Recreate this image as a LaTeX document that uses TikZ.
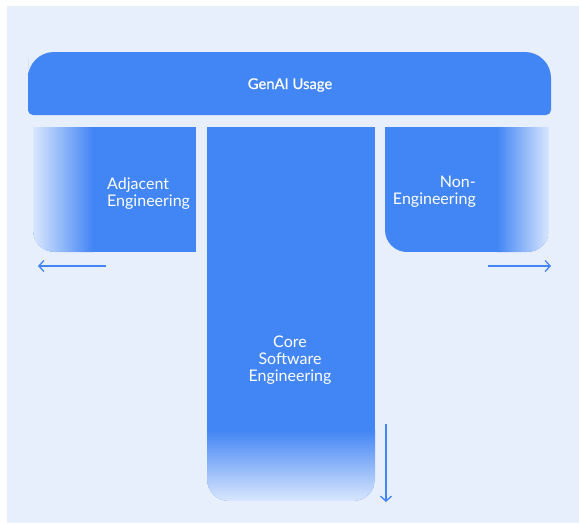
\documentclass[tikz,border=0pt]{standalone}
\usepackage{fontspec}
\setmainfont{Lato}
\usetikzlibrary{arrows.meta}
\definecolor{gblue}{HTML}{4285F4}
\definecolor{bgblue}{HTML}{E8EFFC}
\definecolor{fadeblue}{HTML}{DCE8FD}
\tikzset{
  lbl/.style={text=white, font=\fontsize{16}{17}\selectfont, inner sep=0pt},
  arr/.style={draw=gblue, line width=1.3pt, -{Straight Barb[length=5pt,width=11pt,line width=1.3pt]}},
}
\begin{document}
\begin{tikzpicture}[x=1pt,y=-1pt]
\useasboundingbox (0,0) rectangle (579,523);
\fill[white] (0,0) rectangle (579,523);
\fill[bgblue] (7,6) rectangle (579,523);
% top bar
\fill[gblue] (290,52) [rounded corners=26] -- (28,52) -- (28,85) [rounded corners=5] -- (28,115) -- (551,115) -- (551,85) [rounded corners=26] -- (551,52) -- cycle;
% left box
\begin{scope}
\clip (33,190) [sharp corners] -- (33,127) -- (196,127) -- (196,252) -- (110,252) [rounded corners=22] -- (33,252) -- cycle;
\fill[gblue] (33,127) rectangle (196,252);
\shade[left color=fadeblue, right color=gblue] (32,126) rectangle (93,253);
\end{scope}
% center box
\begin{scope}
\clip (290,127) -- (375,127) -- (375,300) [rounded corners=22] -- (375,501) -- (207,501) -- (207,300) [sharp corners] -- (207,127) -- cycle;
\fill[gblue] (207,127) rectangle (375,501);
\shade[top color=gblue, bottom color=fadeblue] (206,430) rectangle (376,502);
\end{scope}
% right box
\begin{scope}
\clip (385,190) -- (385,127) -- (549,127) -- (549,190) [rounded corners=22] -- (549,252) -- (385,252) -- cycle;
\fill[gblue] (385,127) rectangle (549,252);
\shade[left color=gblue, right color=fadeblue] (497,126) rectangle (550,253);
\end{scope}
% texts
\node[lbl, font=\fontsize{14.8}{17}\selectfont\addfontfeatures{FakeBold=0.6}] (genai) at (290,85) {GenAI Usage};
\node[lbl, align=left, anchor=west] (adj) at (107,193.5) {Adjacent\\Engineering};
\node[lbl, align=right, anchor=east] (non) at (476,191.5) {Non-\\Engineering};
\node[lbl, align=center] (core) at (290,360) {Core\\Software\\Engineering};
% arrows
\coordinate (la1) at (106,266); \coordinate (la2) at (38,266);
\coordinate (ra1) at (488,266); \coordinate (ra2) at (551,266);
\coordinate (da1) at (386,424); \coordinate (da2) at (386,502);
\draw[arr] (la1) -- (la2);
\draw[arr] (ra1) -- (ra2);
\draw[arr] (da1) -- (da2);
\end{tikzpicture}
\end{document}
